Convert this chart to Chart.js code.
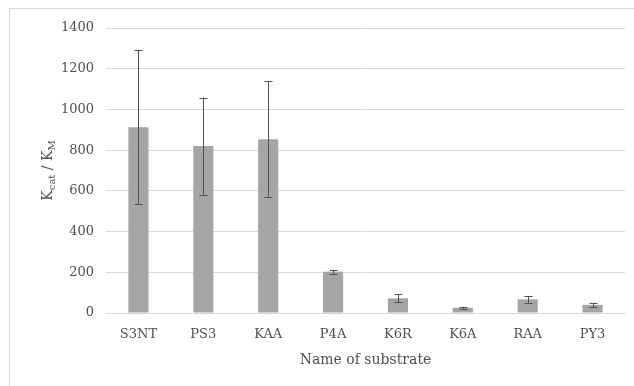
<!DOCTYPE html>
<html>
<head>
<meta charset="utf-8">
<script src="https://cdn.jsdelivr.net/npm/chart.js@4"></script>
<style>
    body { margin: 0; background: #fff; overflow: hidden; }
    #frame { position: absolute; left: 9px; top: 8px; width: 700px; height: 500px; border: 1px solid #d9d9d9; }
    #wrap { position: absolute; left: 0; top: 0; width: 634px; height: 386px; }
</style>
</head>
<body>
<div id="frame"></div>
<div id="wrap"><canvas id="substrateChart"></canvas></div>
<script>
const substrates = ['S3NT', 'PS3', 'KAA', 'P4A', 'K6R', 'K6A', 'RAA', 'PY3'];
const ratioValues = [913, 820, 853, 203, 72, 26, 67, 40];
const ratioErrors = [377, 238, 285, 9, 19, 5, 17, 10];
const yTicks = [0, 200, 400, 600, 800, 1000, 1200, 1400];

const textColor = '#505050';
const fontFamily = '"DejaVu Serif", serif';

// error bars drawn through the chart's own scales
const errorBars = {
    id: 'errorBars',
    afterDatasetsDraw(chart) {
        const ctx = chart.ctx;
        const x = chart.scales.x;
        const y = chart.scales.y;
        ctx.save();
        ctx.strokeStyle = '#505050';
        ctx.lineWidth = 1;
        ratioValues.forEach(function (v, i) {
            const px = Math.round(x.getPixelForValue(i)) + 0.5;
            const top = y.getPixelForValue(v + ratioErrors[i]);
            const bottom = y.getPixelForValue(v - ratioErrors[i]);
            ctx.beginPath();
            ctx.moveTo(px, top);
            ctx.lineTo(px, bottom);
            ctx.moveTo(px - 4, Math.round(top) + 0.5);
            ctx.lineTo(px + 4, Math.round(top) + 0.5);
            ctx.moveTo(px - 4, Math.round(bottom) + 0.5);
            ctx.lineTo(px + 4, Math.round(bottom) + 0.5);
            ctx.stroke();
        });
        ctx.restore();
    }
};

// y title with subscripts: K_cat / K_M
const yTitle = {
    id: 'yTitle',
    afterDraw(chart) {
        const ctx = chart.ctx;
        const area = chart.chartArea;
        const parts = [
            ['K', 14, 0], ['cat', 10, 3], [' / K', 14, 0], ['M', 10, 3]
        ];
        ctx.save();
        let total = 0;
        parts.forEach(function (p) {
            ctx.font = p[1] + 'px ' + fontFamily;
            total += ctx.measureText(p[0]).width;
        });
        ctx.translate(47, (area.top + area.bottom) / 2);
        ctx.rotate(-Math.PI / 2);
        ctx.fillStyle = textColor;
        ctx.textBaseline = 'alphabetic';
        let cx = -total / 2;
        parts.forEach(function (p) {
            ctx.font = p[1] + 'px ' + fontFamily;
            ctx.fillText(p[0], cx, 5 + p[2]);
            cx += ctx.measureText(p[0]).width;
        });
        ctx.restore();
    }
};

const ctx = document.getElementById('substrateChart').getContext('2d');
new Chart(ctx, {
    type: 'bar',
    data: {
        labels: substrates,
        datasets: [{
            label: 'Kcat / KM',
            data: ratioValues,
            backgroundColor: '#a5a5a5',
            barPercentage: 0.62,
            categoryPercentage: 0.5
        }]
    },
    options: {
        responsive: true,
        maintainAspectRatio: false,
        animation: false,
        layout: { padding: { left: 0, top: 28, right: 9, bottom: 0 } },
        plugins: {
            legend: { display: false },
            tooltip: { enabled: false }
        },
        scales: {
            x: {
                grid: { display: false, drawTicks: false },
                border: { color: '#d9d9d9', width: 1 },
                ticks: { color: textColor, font: { family: fontFamily, size: 13 }, padding: 14 },
                title: {
                    display: true,
                    text: 'Name of substrate',
                    color: textColor,
                    font: { family: fontFamily, size: 14 },
                    padding: { top: 6, bottom: 17 }
                },
                afterFit: function (scale) { scale.height = 73; }
            },
            y: {
                min: 0,
                max: 1400,
                afterBuildTicks: function (scale) {
                    scale.ticks = yTicks.map(function (v) { return { value: v }; });
                },
                grid: { color: '#d9d9d9', drawTicks: false },
                border: { display: false },
                ticks: {
                    color: textColor,
                    font: { family: fontFamily, size: 13 },
                    padding: 12,
                    callback: function (value) { return String(value); }
                },
                afterFit: function (scale) { scale.width = 106; }
            }
        }
    },
    plugins: [errorBars, yTitle]
});
</script>
</body>
</html>
